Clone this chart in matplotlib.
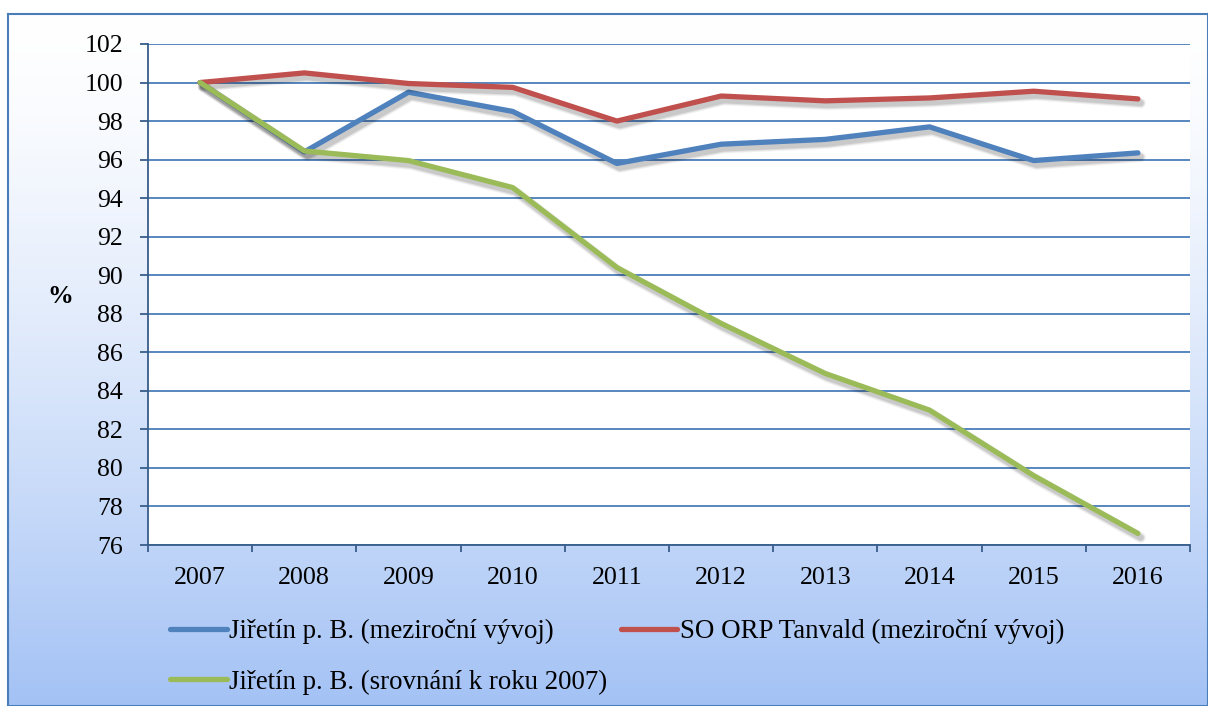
import matplotlib.pyplot as plt
import matplotlib.patheffects as pe
from matplotlib.lines import Line2D
import numpy as np

years = ["2007", "2008", "2009", "2010", "2011", "2012", "2013", "2014", "2015", "2016"]
jiretin_yoy = [100.0, 96.4, 99.5, 98.5, 95.8, 96.8, 97.05, 97.7, 95.95, 96.35]
tanvald_yoy = [100.0, 100.5, 99.95, 99.75, 98.0, 99.3, 99.05, 99.2, 99.55, 99.15]
jiretin_2007 = [100.0, 96.45, 95.95, 94.55, 90.4, 87.5, 84.9, 83.0, 79.6, 76.6]

labels = ["Jiřetín p. B. (meziroční vývoj)",
          "SO ORP Tanvald (meziroční vývoj)",
          "Jiřetín p. B. (srovnání k roku 2007)"]
colors = ["#4F81BD", "#C0504D", "#9BBB59"]

plt.rcParams["font.family"] = ["Liberation Serif", "DejaVu Serif"]
W, H = 1208, 706
fig = plt.figure(figsize=(W / 100, H / 100), dpi=100)
fig.patch.set_facecolor("white")

# gradient background frame
bg = fig.add_axes([8 / W, 0, 1 - 8 / W, (H - 14) / H])
grad = np.linspace(0, 1, 256).reshape(-1, 1)
top = np.array([1.0, 1.0, 1.0])
bot = np.array([0.64, 0.76, 0.96])
img = top + (bot - top) * (grad ** 1.4)[:, :, None] * np.ones((1, 2, 1))
bg.imshow(img, aspect="auto", extent=[0, 1, 0, 1], origin="upper")
bg.set_xlim(0, 1)
bg.set_ylim(0, 1)
bg.set_xticks([])
bg.set_yticks([])
for s in bg.spines.values():
    s.set_color("#4A7EBB")
    s.set_linewidth(1.5)

ax = fig.add_axes([148 / W, 1 - 545 / H, (1190 - 148) / W, (545 - 44) / H])
ax.set_facecolor("white")
x = np.arange(len(years))

# soft drop shadow, a few widening strokes
shadow = [pe.Stroke(offset=(2, -3), linewidth=w, foreground="black", alpha=a)
          for w, a in [(7.5, 0.05), (6, 0.07), (4.5, 0.1)]] + [pe.Normal()]
for vals, c in zip([jiretin_yoy, tanvald_yoy, jiretin_2007], colors):
    ax.plot(x, vals, color=c, lw=3.8, solid_capstyle="round",
            solid_joinstyle="round", path_effects=shadow, zorder=3)

ax.set_xlim(-0.5, len(years) - 0.5)
ax.set_ylim(76, 102)
ax.set_yticks(np.arange(76, 103, 2))
ax.grid(axis="y", color="#4A7EBB", lw=1.3, zorder=0)
ax.set_axisbelow(True)

ax.set_xticks(np.arange(-0.5, len(years), 1))
ax.set_xticklabels([])
ax.set_xticks(x, minor=True)
ax.set_xticklabels(years, minor=True)
ax.tick_params(axis="x", which="major", length=5, width=1.3, color="#385D8A", direction="out")
ax.tick_params(axis="x", which="minor", length=0, pad=16, labelsize=18.7)
ax.tick_params(axis="y", length=6, width=1.3, color="#385D8A", pad=12, labelsize=18.5)

for s in ["top", "right"]:
    ax.spines[s].set_visible(False)
for s in ["left", "bottom"]:
    ax.spines[s].set_color("#385D8A")
    ax.spines[s].set_linewidth(1.3)

fig.text(60 / W, 1 - 297 / H, "%", fontsize=18.5, fontweight="bold", ha="center", va="center")

handles = [Line2D([], [], color=c, lw=3.8, solid_capstyle="round") for c in colors]
fig.legend([handles[0], handles[2], handles[1]], [labels[0], labels[2], labels[1]],
           loc="upper left", bbox_to_anchor=(170 / W, 1 - 619 / H), ncol=2,
           frameon=False, fontsize=19.4, handlelength=2.1, handletextpad=0.1,
           columnspacing=0.5, labelspacing=0.95, borderpad=0, borderaxespad=0)

fig.savefig("out.png", dpi=100)
